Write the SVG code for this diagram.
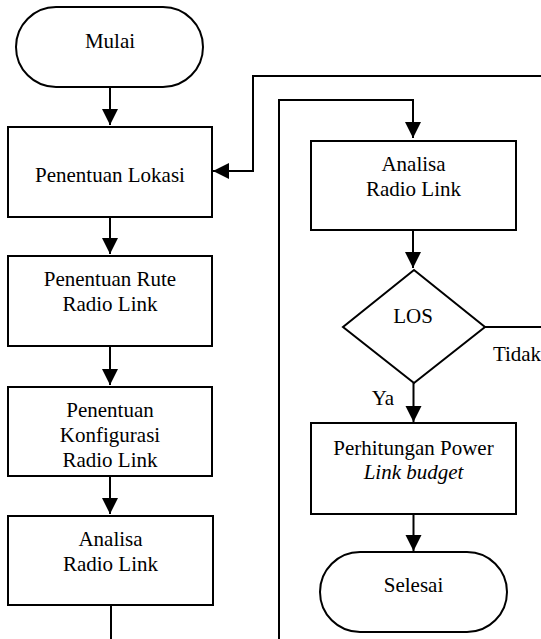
<svg xmlns="http://www.w3.org/2000/svg" width="541" height="639" viewBox="0 0 541 639">
  <style>
    .shape { fill: #ffffff; stroke: #000000; stroke-width: 2; }
    .wire { fill: none; stroke: #000000; stroke-width: 2; }
    .lbl { font-family: "Liberation Serif", "Times New Roman", Times, serif; font-size: 21px; fill: #000000; text-anchor: middle; }
    .it { font-style: italic; }
  </style>
  <defs>
    <marker id="arrow" markerUnits="userSpaceOnUse" markerWidth="17" markerHeight="17" refX="16" refY="8" orient="auto">
      <path d="M0,0 L16,8 L0,16 Z" fill="#000000"/>
    </marker>
  </defs>
  <rect width="541" height="639" fill="#ffffff"/>

  <!-- connectors -->
  <g id="connectors">
    <path class="wire" d="M110,87 V125" marker-end="url(#arrow)"/>
    <path class="wire" d="M110,217 V254" marker-end="url(#arrow)"/>
    <path class="wire" d="M110,346 V385" marker-end="url(#arrow)"/>
    <path class="wire" d="M110,476 V514" marker-end="url(#arrow)"/>
    <path class="wire" d="M111,605 V639"/>
    <!-- loop back from "Tidak" to Penentuan Lokasi -->
    <path class="wire" d="M541,76 H253 V171 H213" marker-end="url(#arrow)"/>
    <!-- continuation from left column into right column -->
    <path class="wire" d="M279,639 V100 H413 V138" marker-end="url(#arrow)"/>
    <path class="wire" d="M413,230 V268" marker-end="url(#arrow)"/>
    <path class="wire" d="M485,327 H541"/>
    <path class="wire" d="M413.5,383 V422" marker-end="url(#arrow)"/>
    <path class="wire" d="M413.5,514 V551" marker-end="url(#arrow)"/>
  </g>

  <g id="mulai">
    <rect class="shape" x="16" y="7" width="187" height="80" rx="40" ry="40"/>
    <text class="lbl" x="110" y="48">Mulai</text>
  </g>

  <g id="penentuan-lokasi">
    <rect class="shape" x="8" y="127" width="204" height="90"/>
    <text class="lbl" x="110" y="182">Penentuan Lokasi</text>
  </g>

  <g id="penentuan-rute">
    <rect class="shape" x="8" y="256" width="204" height="90"/>
    <text class="lbl" x="110" y="286">Penentuan Rute</text>
    <text class="lbl" x="110" y="311">Radio Link</text>
  </g>

  <g id="penentuan-konfigurasi">
    <rect class="shape" x="8" y="387" width="204" height="89"/>
    <text class="lbl" x="110" y="417">Penentuan</text>
    <text class="lbl" x="110" y="442">Konfigurasi</text>
    <text class="lbl" x="110" y="467">Radio Link</text>
  </g>

  <g id="analisa-kiri">
    <rect class="shape" x="8" y="516" width="205" height="89"/>
    <text class="lbl" x="110.5" y="546">Analisa</text>
    <text class="lbl" x="110.5" y="571">Radio Link</text>
  </g>

  <g id="analisa-kanan">
    <rect class="shape" x="311" y="141" width="205" height="89"/>
    <text class="lbl" x="413.5" y="171">Analisa</text>
    <text class="lbl" x="413.5" y="196">Radio Link</text>
  </g>

  <g id="los">
    <polygon class="shape" points="414,270 485,327 414,383 343,327"/>
    <text class="lbl" x="413" y="323">LOS</text>
    <text class="lbl" x="383" y="405">Ya</text>
    <text class="lbl" x="517" y="361">Tidak</text>
  </g>

  <g id="perhitungan">
    <rect class="shape" x="311" y="423" width="205" height="91"/>
    <text class="lbl" x="413.5" y="455">Perhitungan Power</text>
    <text class="lbl it" x="413.5" y="479">Link budget</text>
  </g>

  <g id="selesai">
    <rect class="shape" x="320" y="552" width="187" height="80" rx="40" ry="40"/>
    <text class="lbl" x="413.5" y="592">Selesai</text>
  </g>
</svg>
